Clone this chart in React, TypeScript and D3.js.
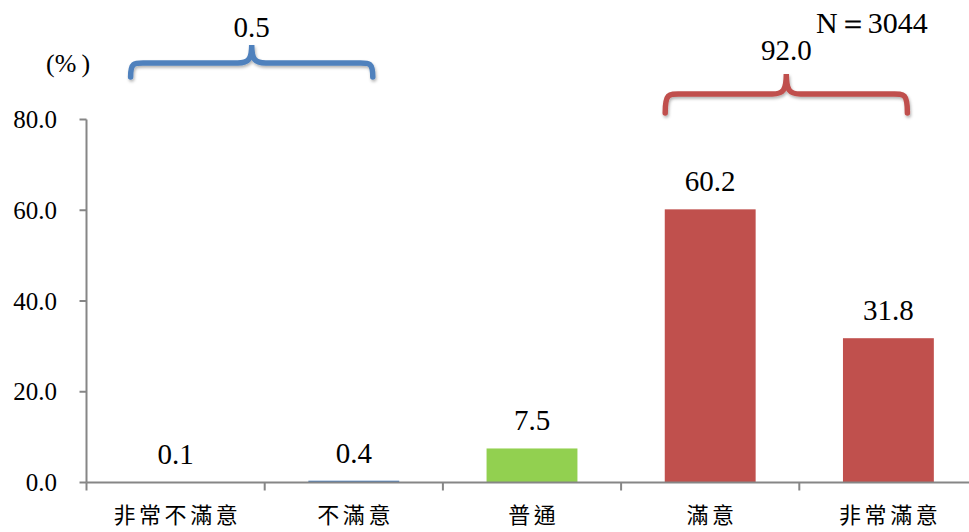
import React from "react";
import * as d3 from "d3";

const categories = ["非常不滿意", "不滿意", "普通", "滿意", "非常滿意"];
const values = [0.1, 0.4, 7.5, 60.2, 31.8];
const barColors = ["#4F81BD", "#4F81BD", "#92D050", "#C0504D", "#C0504D"];
const yTicks = [0, 20, 40, 60, 80];
const groupLabels = ["0.5", "92.0"];
const groupFrom = [0, 3];
const groupTo = [1, 4];
const groupColors = ["#4F81BD", "#C0504D"];
const sampleNote = "N＝3044";
const unitLabel = "(%\u2009)";

// layout
const W = 969;
const H = 532;
const axisX = 86.5;
const axisY0 = 482.5;
const axisY80 = 119.5;
const braceLayout = [
  { mid: 63, end: 77, peak: 45, text: 37 },
  { mid: 94, end: 113, peak: 74, text: 60 },
];

const serif = "Liberation Serif, Tinos, Times New Roman, serif";
const cjk = "Noto Sans CJK TC, Noto Sans CJK SC, sans-serif";

function bracePath(x1: number, x2: number, xp: number, yEnd: number, yMid: number, yPeak: number) {
  const r = 18;
  const rp = 14;
  return [
    `M${x1},${yEnd}`,
    `C${x1},${yMid - 2} ${x1 + 4},${yMid} ${x1 + r},${yMid}`,
    `L${xp - rp},${yMid}`,
    `C${xp - 3},${yMid} ${xp},${yMid - 4} ${xp},${yPeak}`,
    `C${xp},${yMid - 4} ${xp + 3},${yMid} ${xp + rp},${yMid}`,
    `L${x2 - r},${yMid}`,
    `C${x2 - 4},${yMid} ${x2},${yMid - 2} ${x2},${yEnd}`,
  ].join(" ");
}

export default function App() {
  const x = d3.scaleBand<string>().domain(categories).range([axisX, axisX + 178.2 * 5]).padding(0);
  const y = d3.scaleLinear().domain([0, 80]).range([axisY0, axisY80]);
  const bw = x.bandwidth();
  const barW = bw * 0.51;
  const cx = (c: string) => (x(c) as number) + bw / 2;
  const serifStyle = { fontFamily: serif };
  const cjkStyle = { fontFamily: cjk };

  return (
    <svg width={W} height={H} style={{ position: "absolute", left: 0, top: 0, background: "#fff" }}>
      <defs>
        <filter id="shadow" x="-10%" y="-50%" width="120%" height="200%">
          <feDropShadow dx="1" dy="2" stdDeviation="1.5" floodColor="#000" floodOpacity="0.3" />
        </filter>
      </defs>
      {/* bars */}
      {categories.map((c, i) => (
        <rect
          key={c}
          x={cx(c) - barW / 2}
          y={y(values[i])}
          width={barW}
          height={axisY0 - y(values[i])}
          fill={barColors[i]}
        />
      ))}
      {/* axes */}
      <line x1={axisX} x2={W} y1={axisY0} y2={axisY0} stroke="#868686" strokeWidth={2} />
      <line x1={axisX} x2={axisX} y1={axisY80} y2={axisY0} stroke="#868686" strokeWidth={2} />
      {yTicks.map((t) => (
        <g key={t}>
          <line x1={axisX - 7} x2={axisX} y1={y(t)} y2={y(t)} stroke="#868686" strokeWidth={2} />
          <text x={57} y={y(t) + 8.5} textAnchor="end" style={serifStyle} fontSize={25} fill="#000">
            {t.toFixed(1)}
          </text>
        </g>
      ))}
      {categories.map((c) => (
        <line key={c} x1={x(c) as number} x2={x(c) as number} y1={axisY0} y2={axisY0 + 8} stroke="#868686" strokeWidth={2} />
      ))}
      {/* category labels */}
      {categories.map((c) => (
        <text
          key={c}
          x={cx(c) + 1.8}
          y={523}
          textAnchor="middle"
          style={cjkStyle}
          fontSize={22}
          letterSpacing={3.6}
          fill="#000"
        >
          {c}
        </text>
      ))}
      {/* value labels */}
      {categories.map((c, i) => (
        <text
          key={c}
          x={cx(c)}
          y={y(values[i]) - 18}
          textAnchor="middle"
          style={serifStyle}
          fontSize={29}
          fill="#000"
        >
          {values[i].toFixed(1)}
        </text>
      ))}
      {/* braces */}
      {groupLabels.map((g, i) => {
        const L = braceLayout[i];
        const x1 = cx(categories[groupFrom[i]]) - 45;
        const x2 = cx(categories[groupTo[i]]) + 19;
        const xp = (x1 + x2) / 2;
        return (
          <g key={g}>
            <path
              d={bracePath(x1, x2, xp, L.end, L.mid, L.peak)}
              fill="none"
              stroke={groupColors[i]}
              strokeWidth={5.5}
              strokeLinecap="round"
              filter="url(#shadow)"
            />
            <text x={xp} y={L.text} textAnchor="middle" style={serifStyle} fontSize={29} fill="#000">
              {g}
            </text>
          </g>
        );
      })}
      <text x={46} y={72} style={serifStyle} fontSize={26} fill="#000">
        {unitLabel}
      </text>
      <text x={816} y={33} style={serifStyle} fontSize={30} fill="#000">
        {sampleNote}
      </text>
    </svg>
  );
}
